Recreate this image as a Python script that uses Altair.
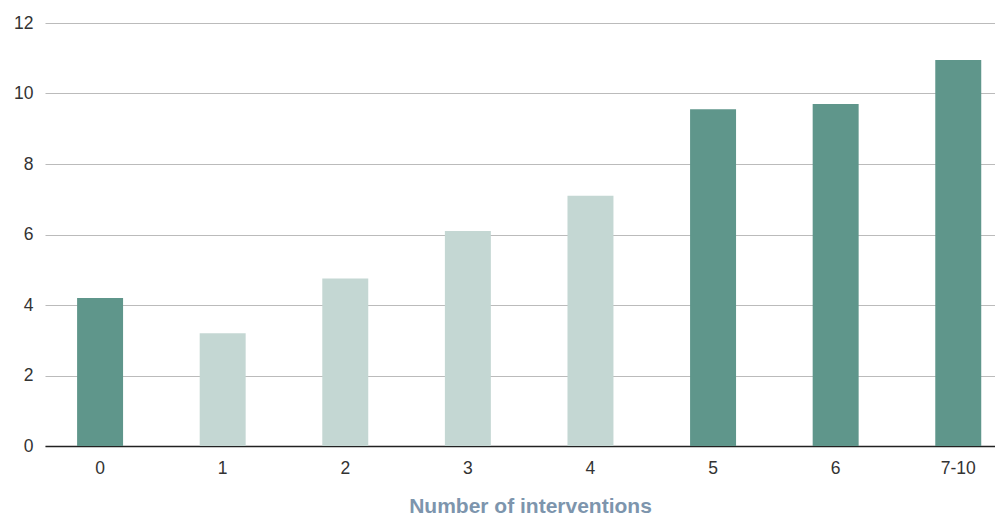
import altair as alt
import pandas as pd

categories = ["0", "1", "2", "3", "4", "5", "6", "7-10"]
values = [4.2, 3.2, 4.75, 6.1, 7.1, 9.55, 9.7, 10.95]
groups = ["dark", "light", "light", "light", "light", "dark", "dark", "dark"]

df = pd.DataFrame({"cat": categories, "val": values, "grp": groups})

FONT = "Liberation Sans"

chart = alt.Chart(df).mark_bar().encode(
    x=alt.X("cat:N", sort=categories,
            scale=alt.Scale(paddingInner=0.625, paddingOuter=0.187, align=0.7),
            axis=alt.Axis(title="Number of interventions", labelAngle=0,
                          ticks=False, domain=True, domainColor="#222222",
                          domainWidth=1.5, labelPadding=13, labelFontSize=17.5,
                          labelColor="#333333", labelFont=FONT,
                          titleFont=FONT, titleFontSize=21, titleFontWeight="bold",
                          titleColor="#7d95ad", titlePadding=19,
                          titleX=485, titleAlign="center")),
    y=alt.Y("val:Q", scale=alt.Scale(domain=[0, 12]),
            axis=alt.Axis(title=None, values=[0, 2, 4, 6, 8, 10, 12],
                          ticks=False, domain=False, grid=True,
                          gridColor="#bbbbbb", labelPadding=12,
                          labelFontSize=17.5, labelColor="#333333", labelFont=FONT)),
    color=alt.Color("grp:N", scale=alt.Scale(domain=["dark", "light"],
                                             range=["#5f968b", "#c4d7d3"]),
                    legend=None),
).properties(
    width=950, height=423,
    autosize=alt.AutoSizeParams(type="none"),
    padding={"left": 37, "top": 15, "right": 0, "bottom": 71},
).configure_view(stroke=None)

chart.save("out.html", embed_options={"renderer": "svg", "actions": False})
